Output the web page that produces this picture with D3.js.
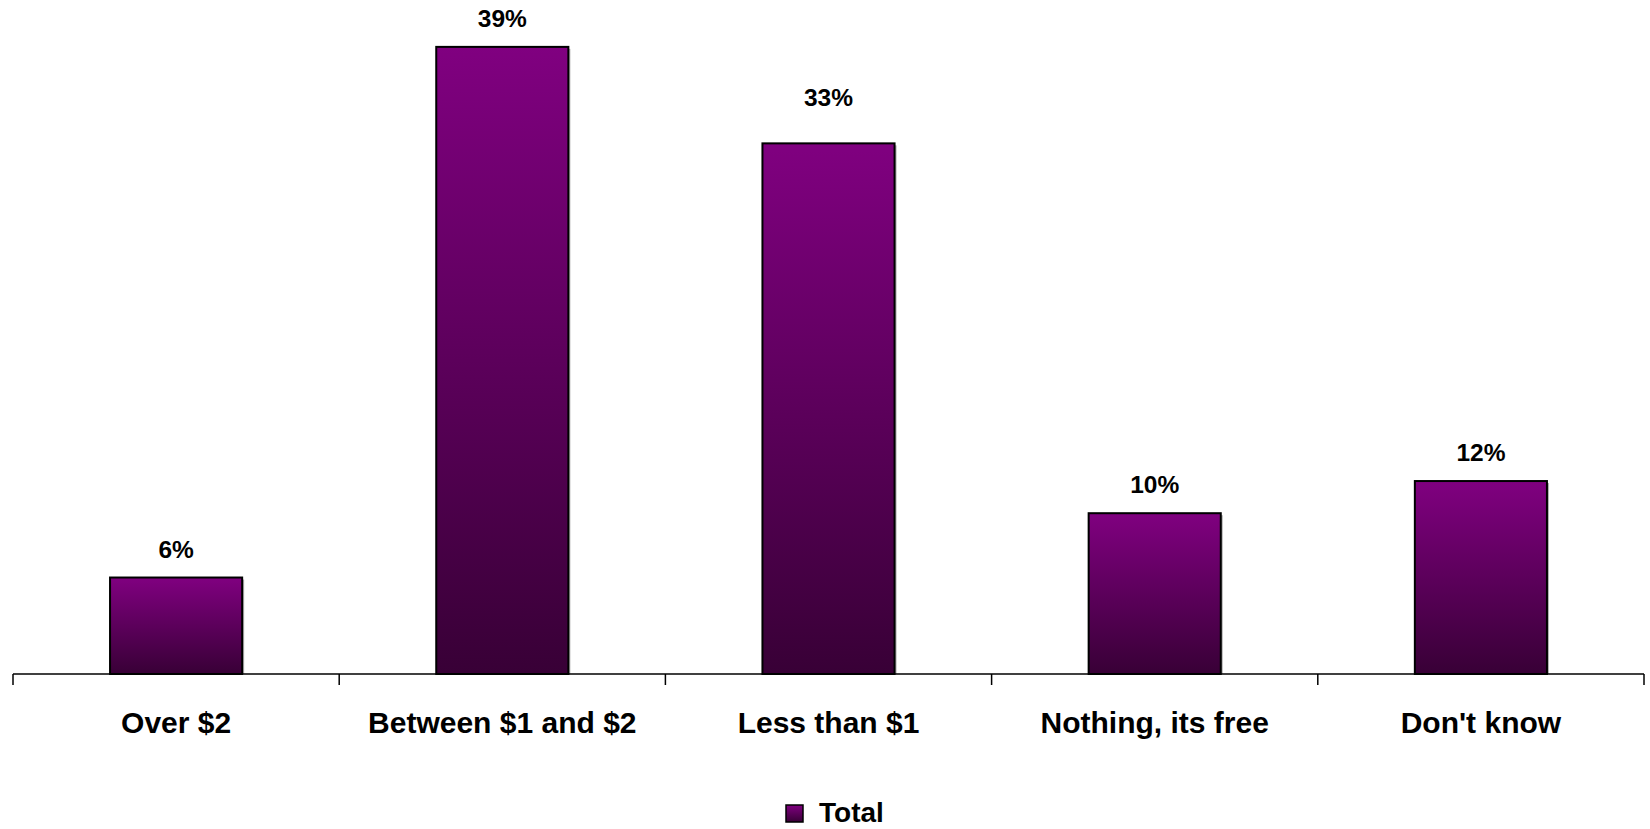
<!DOCTYPE html>
<html>
<head>
<meta charset="utf-8">
<script src="https://cdn.jsdelivr.net/npm/d3@7"></script>
<style>
  html, body { margin: 0; padding: 0; background: #fff; }
  svg { display: block; }
  text { font-family: Arial, "Liberation Sans", sans-serif; font-weight: bold; fill: #000; }
</style>
</head>
<body>
<svg id="chart" width="1650" height="829"></svg>
<script>
const categories = ["Over $2", "Between $1 and $2", "Less than $1", "Nothing, its free", "Don't know"];
const values = [6, 39, 33, 10, 12];
const valueLabels = ["6%", "39%", "33%", "10%", "12%"];
const seriesName = "Total";

const svg = d3.select("#chart");
const axisY = 674;
const left = 13, right = 1644;

const x = d3.scaleBand().domain(categories).range([left, right]).padding(0);
const y = d3.scaleLinear().domain([0, 45]).range([axisY, axisY - 45 * 16.08]);
const barW = x.bandwidth() * 0.405;
// label gap above bar (the third label sits higher in the original)
const labelGap = [20, 20, 37, 20, 20];

const defs = svg.append("defs");
const grad = defs.append("linearGradient").attr("id", "barGrad")
  .attr("x1", 0).attr("y1", 0).attr("x2", 0).attr("y2", 1);
grad.append("stop").attr("offset", "0%").attr("stop-color", "#800080");
grad.append("stop").attr("offset", "100%").attr("stop-color", "#380036");

const data = categories.map((c, i) => ({ c, v: values[i], l: valueLabels[i], i }));

// shadows
svg.append("g").selectAll("rect").data(data).join("rect")
  .attr("x", d => x(d.c) + x.bandwidth() / 2 - barW / 2 + 2)
  .attr("y", d => y(d.v) + 2)
  .attr("width", barW)
  .attr("height", d => axisY - y(d.v) - 2)
  .attr("fill", "#b0b0b0");

// bars
svg.append("g").selectAll("rect").data(data).join("rect")
  .attr("x", d => x(d.c) + x.bandwidth() / 2 - barW / 2)
  .attr("y", d => y(d.v))
  .attr("width", barW)
  .attr("height", d => axisY - y(d.v))
  .attr("fill", "url(#barGrad)")
  .attr("stroke", "#000")
  .attr("stroke-width", 2);

// value labels
svg.append("g").selectAll("text").data(data).join("text")
  .attr("x", d => x(d.c) + x.bandwidth() / 2)
  .attr("y", d => y(d.v) - labelGap[d.i])
  .attr("text-anchor", "middle")
  .style("font-size", "24.5px")
  .text(d => d.l);

// axis
const axis = d3.axisBottom(x).tickSize(0).tickFormat("");
const gAxis = svg.append("g").attr("transform", `translate(0,${axisY})`).call(axis);
gAxis.select(".domain").attr("stroke", "#000").attr("stroke-width", 1.5)
  .attr("d", `M${left},0H${right}`);
gAxis.selectAll(".tick").remove();
const edges = categories.map(c => x(c)).concat([right]);
gAxis.selectAll("line.edge").data(edges).join("line")
  .attr("class", "edge")
  .attr("x1", d => d).attr("x2", d => d)
  .attr("y1", 0).attr("y2", 11)
  .attr("stroke", "#000").attr("stroke-width", 1.5);

// category labels
svg.append("g").selectAll("text").data(categories).join("text")
  .attr("x", d => x(d) + x.bandwidth() / 2)
  .attr("y", 733)
  .attr("text-anchor", "middle")
  .style("font-size", "30px")
  .text(d => d);

// legend
const lg = svg.append("g");
lg.append("rect").attr("x", 786).attr("y", 805).attr("width", 17).attr("height", 17)
  .attr("fill", "url(#barGrad)").attr("stroke", "#000").attr("stroke-width", 1.5);
lg.append("text").attr("x", 819).attr("y", 822).style("font-size", "28px").text(seriesName);
</script>
</body>
</html>
